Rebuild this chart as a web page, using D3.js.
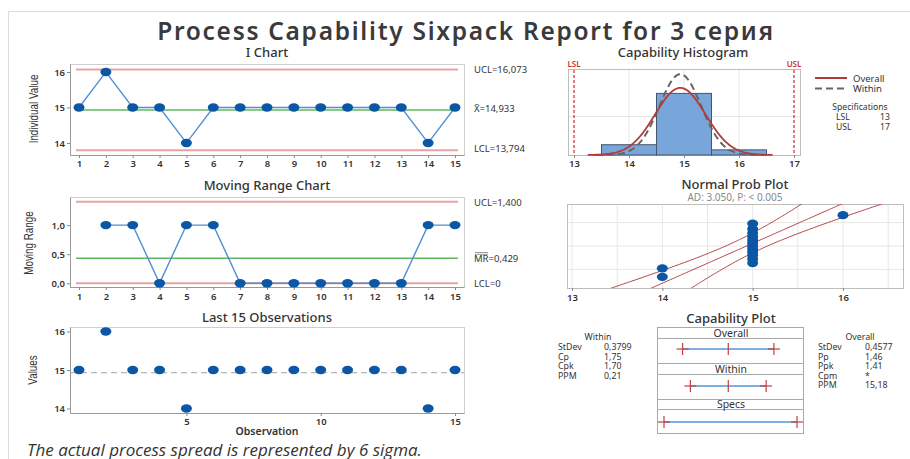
<!DOCTYPE html>
<html><head><meta charset="utf-8">
<script src="https://cdn.jsdelivr.net/npm/d3@7"></script>
<style>
body{margin:0;background:#fff;}
svg{display:block;font-family:"Noto Sans","Open Sans",sans-serif;}
</style></head>
<body><svg id="c" width="910" height="459"></svg>
<script>
// Individual measurements of series 3
const observations = [15,16,15,15,14,15,15,15,15,15,15,15,15,14,15];
const movingRanges = [null,1,1,0,1,1,0,0,0,0,0,0,0,1,1];
const obsIndex = d3.range(1, 16);
const iChartUCL = 16.073, iChartMean = 14.933, iChartLCL = 13.794;
const mrUCL = 1.400, mrMean = 0.429, mrLCL = 0;
const lsl = 13, usl = 17;
const processMean = 14.933;
const withinStDev = 0.3799, overallStDev = 0.4577;
const histBinEdges = [13.5, 14.5, 15.5, 16.5];
const histCounts = [2, 12, 1];
const iTicks = [14, 15, 16];
const mrTicks = [0, 0.5, 1.0];
const obsTicks = [5, 10, 15];
const histTicks = [13, 14, 15, 16, 17];
const probTicks = [13, 14, 15, 16];
const probGridPct = [10, 50, 90];
const withinStats = [["StDev","0,3799"],["Cp","1,75"],["Cpk","1,70"],["PPM","0,21"]];
const overallStats = [["StDev","0,4577"],["Pp","1,46"],["Ppk","1,41"],["Cpm","*"],["PPM","15,18"]];
const adText = "AD: 3.050, P: < 0.005";

const ru = d3.formatLocale({decimal: ",", thousands: " ", grouping: [3], currency: ["", ""]});
const f1 = ru.format(".1f");
const fInt = d3.format("d");
const svg = d3.select("#c");
const TXT = "#333";
const BLUE_PT = "#0b56a5", BLUE_LN = "#4f8fd2";
const GREEN = "#5cb85c", LIMIT = "#e7a3a3", DARKRED = "#b23a3a";

function text(x, y, s, o = {}) {
  return svg.append("text").attr("x", x).attr("y", y).text(s)
    .attr("font-size", o.size || 10).attr("font-weight", o.weight || 400)
    .attr("fill", o.fill || TXT).attr("text-anchor", o.anchor || "start")
    .attr("font-style", o.style || "normal")
    .attr("letter-spacing", o.spacing || null)
    .attr("font-family", o.family || null);
}
function frame(x0, x1, y0, y1) {
  svg.append("rect").attr("x", x0 + 0.5).attr("y", y0 + 0.5)
    .attr("width", x1 - x0).attr("height", y1 - y0)
    .attr("fill", "none").attr("stroke", "#cfcfcf");
  svg.append("path").attr("d", `M${x0+0.5},${y0+0.5}V${y1+0.5}H${x1+0.5}`)
    .attr("fill", "none").attr("stroke", "#9a9a9a");
}
function styleAxis(g) {
  g.select(".domain").remove();
  g.selectAll(".tick line").attr("stroke", "#888");
  g.selectAll(".tick text").attr("font-size", 9.5).attr("font-weight", 600).attr("fill", TXT)
    .attr("font-family", "Noto Sans, sans-serif");
}
function yLabel(x, y, s) {
  svg.append("text").attr("transform", `translate(${x},${y}) rotate(-90) scale(0.82,1)`)
    .attr("text-anchor", "middle").attr("font-size", 12).attr("fill", TXT)
    .attr("font-family", "Liberation Sans, Arial, sans-serif").text(s);
}
function hline(x0, x1, y, color, w, dash) {
  svg.append("line").attr("x1", x0).attr("x2", x1).attr("y1", y).attr("y2", y)
    .attr("stroke", color).attr("stroke-width", w).attr("stroke-dasharray", dash || null);
}

// Outer report border
svg.append("path").attr("d", "M8.5,459V11.5H910").attr("fill", "none").attr("stroke", "#dcdcdc");

// Report title
text(466, 40, "Process Capability Sixpack Report for 3 серия", {size: 24.5, weight: 600, anchor: "middle", fill: "#3a3a3a", spacing: 1.7});

// Shared observation scale for the three left panels
const xObs = d3.scaleLinear().domain([1, 15]).range([79, 455]);
const L = 70, R = 464;

// ---- I Chart ----
const yI = d3.scaleLinear().domain([14, 16]).range([143, 72]);
text(267, 57, "I Chart", {size: 13, weight: 500, anchor: "middle"});
frame(L, R, 64, 155);
hline(L + 6, R - 6, yI(iChartUCL), LIMIT, 2);
hline(L + 6, R - 6, yI(iChartLCL), LIMIT, 2);
hline(L + 6, R - 6, yI(iChartMean), GREEN, 1.5);
svg.append("g").attr("transform", "translate(0,155)")
  .call(d3.axisBottom(xObs).tickValues(obsIndex).tickFormat(fInt).tickSize(3).tickPadding(2)).call(styleAxis);
svg.append("g").attr("transform", `translate(${L},0)`)
  .call(d3.axisLeft(yI).tickValues(iTicks).tickFormat(fInt).tickSize(3).tickPadding(2)).call(styleAxis);
svg.append("path").datum(observations)
  .attr("d", d3.line().x((d, i) => xObs(i + 1)).y(d => yI(d)))
  .attr("fill", "none").attr("stroke", BLUE_LN).attr("stroke-width", 1.3);
svg.append("g").selectAll("ellipse").data(observations).join("ellipse")
  .attr("cx", (d, i) => xObs(i + 1)).attr("cy", d => yI(d)).attr("rx", 5.5).attr("ry", 4.2).attr("fill", BLUE_PT);
yLabel(38, 109, "Individual Value");
text(474, 72.5, "UCL=16,073", {size: 9.5});
text(474, 111.5, "X\u0304=14,933", {size: 9.5});
text(474, 151.5, "LCL=13,794", {size: 9.5});

// ---- Moving Range Chart ----
const yMR = d3.scaleLinear().domain([0, 1]).range([283.3, 225.1]);
text(267, 190, "Moving Range Chart", {size: 13, weight: 500, anchor: "middle"});
frame(L, R, 197, 287);
hline(L + 6, R - 6, yMR(mrUCL), LIMIT, 2);
hline(L + 6, R - 6, yMR(mrLCL), LIMIT, 2);
hline(L + 6, R - 6, yMR(mrMean), GREEN, 1.5);
svg.append("g").attr("transform", "translate(0,287)")
  .call(d3.axisBottom(xObs).tickValues(obsIndex).tickFormat(fInt).tickSize(3).tickPadding(3)).call(styleAxis);
svg.append("g").attr("transform", `translate(${L},0)`)
  .call(d3.axisLeft(yMR).tickValues(mrTicks).tickFormat(f1).tickSize(3).tickPadding(2)).call(styleAxis);
const mrPts = movingRanges.map((v, i) => ({i: i + 1, v})).filter(d => d.v !== null);
svg.append("path").datum(mrPts)
  .attr("d", d3.line().x(d => xObs(d.i)).y(d => yMR(d.v)))
  .attr("fill", "none").attr("stroke", BLUE_LN).attr("stroke-width", 1.4);
svg.append("g").selectAll("ellipse").data(mrPts).join("ellipse")
  .attr("cx", d => xObs(d.i)).attr("cy", d => yMR(d.v)).attr("rx", 5.5).attr("ry", 4.2).attr("fill", BLUE_PT);
yLabel(33, 243, "Moving Range");
text(474, 205.5, "UCL=1,400", {size: 9.5});
const mrLab = text(474, 262, "", {size: 9.5});
const mrHead = mrLab.append("tspan").text("MR");
mrLab.append("tspan").text("=0,429");
const mrW = mrHead.node().getComputedTextLength();
hline(475, 473.5 + mrW, 252.5, "#555", 0.6);
hline(475, 473.5 + mrW, 254.3, "#555", 0.6);
text(474, 287, "LCL=0", {size: 9.5});

// ---- Last 15 Observations ----
const yObs = d3.scaleLinear().domain([14, 16]).range([408.5, 331.5]);
text(267, 322, "Last 15 Observations", {size: 13, weight: 500, anchor: "middle"});
frame(L, R, 327, 413);
hline(L + 1, R, yObs(processMean), "#b5b5b5", 1.2, "6,4");
svg.append("g").attr("transform", "translate(0,413)")
  .call(d3.axisBottom(xObs).tickValues(obsTicks).tickFormat(fInt).tickSize(3).tickPadding(2)).call(styleAxis);
svg.append("g").attr("transform", `translate(${L},0)`)
  .call(d3.axisLeft(yObs).tickValues(iTicks).tickFormat(fInt).tickSize(3).tickPadding(2)).call(styleAxis);
svg.append("g").selectAll("ellipse").data(observations).join("ellipse")
  .attr("cx", (d, i) => xObs(i + 1)).attr("cy", d => yObs(d)).attr("rx", 5.5).attr("ry", 4.2).attr("fill", BLUE_PT);
yLabel(37, 370, "Values");
text(267, 435, "Observation", {size: 10.5, weight: 600, anchor: "middle"});

// ---- Capability Histogram ----
const xH = d3.scaleLinear().domain([13, 17]).range([574, 794]);
const yH = d3.scaleLinear().domain([0, 1]).range([155, 78]);
text(683, 57, "Capability Histogram", {size: 13, weight: 500, anchor: "middle"});
svg.append("rect").attr("x", 568.5).attr("y", 69.5).attr("width", 232).attr("height", 86)
  .attr("fill", "none").attr("stroke", "#bdbdbd");
[14, 15, 16].forEach(v => svg.append("line").attr("x1", xH(v)).attr("x2", xH(v)).attr("y1", 70).attr("y2", 155).attr("stroke", "#e6e6e6"));
hline(569, 800, yH(0.5), "#e6e6e6", 1);
const n = observations.length;
const binW = histBinEdges[1] - histBinEdges[0];
svg.append("g").selectAll("rect").data(histCounts).join("rect")
  .attr("x", (d, i) => xH(histBinEdges[i])).attr("width", (d, i) => xH(histBinEdges[i + 1]) - xH(histBinEdges[i]))
  .attr("y", d => yH(d / n / binW))
  .attr("height", d => yH(0) - yH(d / n / binW))
  .attr("fill", "#79a6da").attr("stroke", "#44556b").attr("stroke-width", 1);
const normPdf = (x, m, s) => Math.exp(-0.5 * ((x - m) / s) ** 2) / (s * Math.sqrt(2 * Math.PI));
const curve = (s, lo, hi) => d3.range(lo, hi + 1e-9, 0.02).map(x => [xH(x), yH(normPdf(x, processMean, s))]);
svg.append("path").attr("d", d3.line()(curve(withinStDev, 13.4, 16.47)))
  .attr("fill", "none").attr("stroke", "#666").attr("stroke-width", 2).attr("stroke-dasharray", "7,4");
svg.append("path").attr("d", d3.line()(curve(overallStDev, 13.25, 16.62)))
  .attr("fill", "none").attr("stroke", DARKRED).attr("stroke-width", 1.8);
[lsl, usl].forEach(v => svg.append("line").attr("x1", xH(v)).attr("x2", xH(v)).attr("y1", 70).attr("y2", 155)
  .attr("stroke", "#d22").attr("stroke-width", 1.2).attr("stroke-dasharray", "3,2"));
text(xH(lsl), 67, "LSL", {size: 8, anchor: "middle", fill: "#c33", weight: 600});
text(xH(usl), 67, "USL", {size: 8, anchor: "middle", fill: "#c33", weight: 600});
svg.append("g").attr("transform", "translate(0,155)")
  .call(d3.axisBottom(xH).tickValues(histTicks).tickFormat(fInt).tickSize(3).tickPadding(2)).call(styleAxis);
// legend
hline(815, 847, 78, DARKRED, 2);
hline(815, 847, 88.5, "#666", 2, "7,4");
text(853, 81.5, "Overall", {size: 9.5});
text(853, 92, "Within", {size: 9.5});
text(860, 110, "Specifications", {size: 8.6, anchor: "middle"});
text(836, 120, "LSL", {size: 8.6});
text(880, 120, "13", {size: 8.6});
text(836, 130, "USL", {size: 8.6});
text(880, 130, "17", {size: 8.6});

// ---- Normal Prob Plot ----
const xP = d3.scaleLinear().domain([13, 16]).range([572, 843]);
const zP = d3.scaleLinear().domain([-2.3, 2.3]).range([288, 204]);
text(735, 189, "Normal Prob Plot", {size: 13, weight: 500, anchor: "middle"});
text(735, 201, adText, {size: 10, anchor: "middle", fill: "#8a8a8a"});
svg.append("defs").append("clipPath").attr("id", "pclip")
  .append("rect").attr("x", 567).attr("y", 204).attr("width", 336).attr("height", 84);
d3.range(13, 16.6, 0.5).forEach(v => svg.append("line").attr("x1", xP(v)).attr("x2", xP(v))
  .attr("y1", 204).attr("y2", 288).attr("stroke", "#e6e6e6"));
function probit(p) { // inverse standard normal CDF (Acklam's rational approximation)
  const a=[-3.969683028665376e+01,2.209460984245205e+02,-2.759285104469687e+02,1.383577518672690e+02,-3.066479806614716e+01,2.506628277459239e+00];
  const b=[-5.447609879822406e+01,1.615858368580409e+02,-1.556989798598866e+02,6.680131188771972e+01,-1.328068155288572e+01];
  const c=[-7.784894002430293e-03,-3.223964580411365e-01,-2.400758277161838e+00,-2.549732539343734e+00,4.374664141464968e+00,2.938163982698783e+00];
  const d=[7.784695709041462e-03,3.224671290700398e-01,2.445134137142996e+00,3.754408661907416e+00];
  const pl = 0.02425;
  if (p < pl) { const q = Math.sqrt(-2*Math.log(p)); return (((((c[0]*q+c[1])*q+c[2])*q+c[3])*q+c[4])*q+c[5])/((((d[0]*q+d[1])*q+d[2])*q+d[3])*q+1); }
  if (p > 1-pl) { const q = Math.sqrt(-2*Math.log(1-p)); return -(((((c[0]*q+c[1])*q+c[2])*q+c[3])*q+c[4])*q+c[5])/((((d[0]*q+d[1])*q+d[2])*q+d[3])*q+1); }
  const q = p-0.5, r = q*q;
  return (((((a[0]*r+a[1])*r+a[2])*r+a[3])*r+a[4])*r+a[5])*q/(((((b[0]*r+b[1])*r+b[2])*r+b[3])*r+b[4])*r+1);
}
probGridPct.forEach(p => hline(568, 903, zP(probit(p / 100)), "#e6e6e6", 1));
svg.append("rect").attr("x", 567.5).attr("y", 204.5).attr("width", 336).attr("height", 84)
  .attr("fill", "none").attr("stroke", "#bdbdbd");
const zs = d3.range(-2.6, 2.61, 0.05);
const band = sign => zs.map(z => [xP(processMean + z * overallStDev + sign * 1.96 * overallStDev * Math.sqrt((1 + z * z / 2) / n)), zP(z)]);
const pg = svg.append("g").attr("clip-path", "url(#pclip)");
[-1, 0, 1].forEach(s => pg.append("path").attr("d", d3.line()(band(s)))
  .attr("fill", "none").attr("stroke", "#b54848").attr("stroke-width", 1));
const sorted = observations.slice().sort((a, b) => a - b);
pg.selectAll("ellipse").data(sorted).join("ellipse")
  .attr("cx", d => xP(d)).attr("cy", (d, i) => zP(probit((i + 1 - 0.3) / (n + 0.4))))
  .attr("rx", 5.5).attr("ry", 4.2).attr("fill", BLUE_PT);
svg.append("g").attr("transform", "translate(0,288)")
  .call(d3.axisBottom(xP).tickValues(probTicks).tickFormat(fInt).tickSize(3).tickPadding(3)).call(styleAxis);

// ---- Capability Plot ----
const xC = d3.scaleLinear().domain([lsl, usl]).range([664, 797]);
text(731, 323, "Capability Plot", {size: 13, weight: 500, anchor: "middle"});
svg.append("rect").attr("x", 657.5).attr("y", 327.5).attr("width", 146).attr("height", 106)
  .attr("fill", "none").attr("stroke", "#a9a9a9");
hline(658, 804, 338.5, "#a9a9a9", 1);
hline(658, 804, 363.5, "#a9a9a9", 1);
hline(658, 804, 374.5, "#a9a9a9", 1);
hline(658, 804, 399.5, "#a9a9a9", 1);
hline(658, 804, 409.5, "#a9a9a9", 1);
text(731, 337, "Overall", {size: 10.5, anchor: "middle"});
text(731, 373, "Within", {size: 10.5, anchor: "middle"});
text(731, 408, "Specs", {size: 10.5, anchor: "middle"});
function interval(y, lo, hi, mid) {
  hline(xC(lo), xC(hi), y, "#7eb0e4", 2);
  [lo, hi].forEach(v => hline(xC(v) - 6, xC(v) + 6, y, "#c24040", 1.2));
  [lo, hi].concat(mid !== undefined ? [mid] : []).forEach(v =>
    svg.append("line").attr("x1", xC(v)).attr("x2", xC(v)).attr("y1", y - 6).attr("y2", y + 6)
      .attr("stroke", "#c24040").attr("stroke-width", 1.2));
}
interval(349, processMean - 3 * overallStDev, processMean + 3 * overallStDev, processMean);
interval(386, processMean - 3 * withinStDev, processMean + 3 * withinStDev, processMean);
interval(422, lsl, usl);

// statistics tables
text(598, 340, "Within", {size: 8.8, anchor: "middle"});
withinStats.forEach((r, i) => { text(558, 350 + i * 9.6, r[0], {size: 8.8}); text(604, 350 + i * 9.6, r[1], {size: 8.8}); });
text(860, 340, "Overall", {size: 8.8, anchor: "middle"});
overallStats.forEach((r, i) => { text(818, 350 + i * 9.6, r[0], {size: 8.8}); text(865, 350 + i * 9.6, r[1], {size: 8.8}); });

// footnote
text(27, 456, "The actual process spread is represented by 6 sigma.", {size: 17, style: "italic", family: "Open Sans, sans-serif"});
</script></body></html>
